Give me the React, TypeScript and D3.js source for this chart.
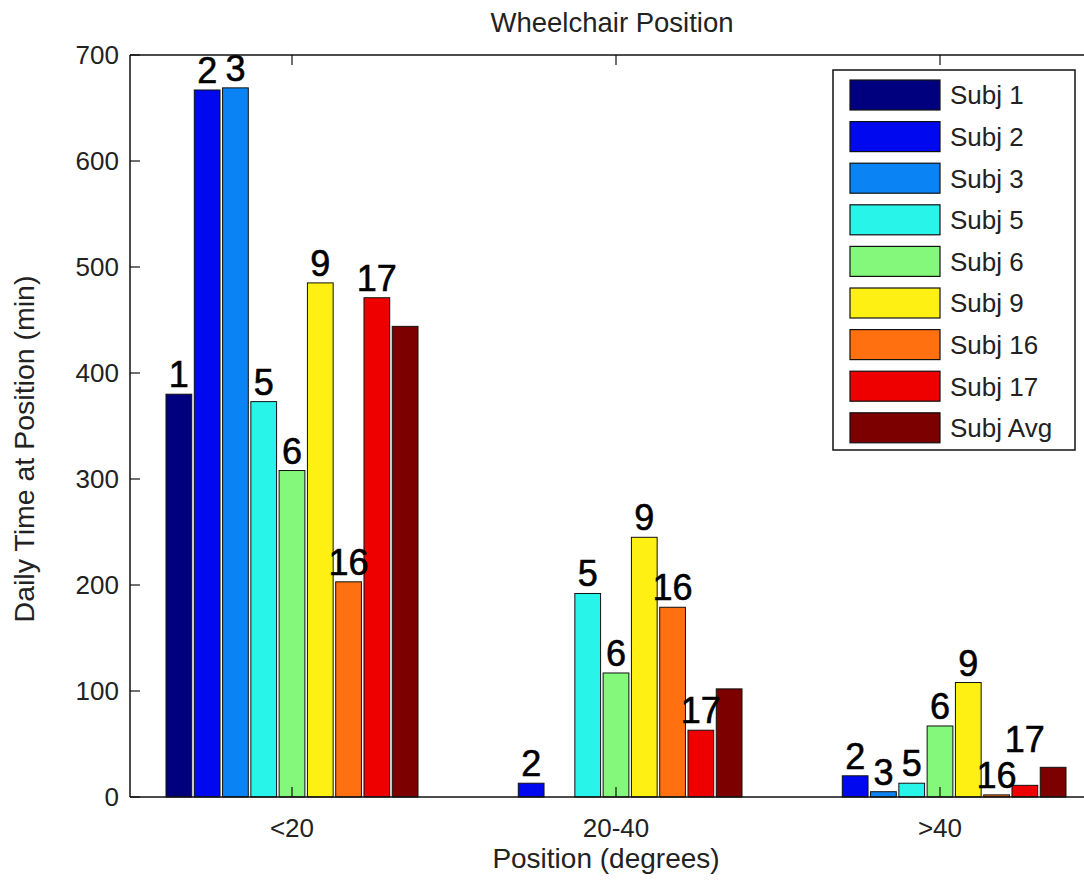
import React from "react";
import * as d3 from "d3";

// position categories on the x axis
const categories = ["<20", "20-40", ">40"];

// legend names and the short tag printed over each bar
const subjects = ["Subj 1", "Subj 2", "Subj 3", "Subj 5", "Subj 6", "Subj 9", "Subj 16", "Subj 17", "Subj Avg"];
const barTags = ["1", "2", "3", "5", "6", "9", "16", "17", ""];

// daily minutes per position (<20, 20-40, >40)
const subj1 = [380, 0, 0];
const subj2 = [667, 13, 20];
const subj3 = [669, 0, 5];
const subj5 = [373, 192, 13];
const subj6 = [308, 117, 67];
const subj9 = [485, 245, 108];
const subj16 = [203, 179, 2];
const subj17 = [471, 63, 11];
const subjAvg = [444, 102, 28];

const yTicks = [0, 100, 200, 300, 400, 500, 600, 700];

const series = [subj1, subj2, subj3, subj5, subj6, subj9, subj16, subj17, subjAvg];
const colors = ["#00007f", "#0008f0", "#0a84f5", "#28f4ea", "#84f87a", "#fff014", "#ff7010", "#ee0000", "#7d0000"];

const W = 1084, H = 882;
const margin = { left: 130, top: 55, bottom: 85 };
const font = "'Liberation Sans', Arial, sans-serif";

export default function App() {
  // MATLAB style: groups at 1..3, xlim [0.5, 3.5]
  const x = d3.scaleLinear().domain([0.5, 3.5]).range([margin.left, margin.left + 3 * 324]);
  const y = d3.scaleLinear().domain([0, 700]).range([H - margin.bottom, margin.top]);
  const inGroup = d3.scaleBand<number>().domain(d3.range(subjects.length)).range([-126, 126]).paddingInner(0.09);

  const x0 = margin.left, x1 = x(3.5), y0 = y(0), yTop = y(700);

  // the "17" tag in the >40 group was lifted in the original so it clears "16"
  const tagLift = (s: number, g: number) => (s === 7 && g === 2 ? 26 : 0);

  // legend box
  const lg = { x: 833, y: 70, w: 242, h: 380, pitch: 41.6, first: 95 };

  return (
    <svg width={W} height={H} style={{ position: "absolute", left: 0, top: 0, background: "#fff" }} fontFamily={font}>
      <rect width={W} height={H} fill="#fff" />

      {/* bars */}
      {series.map((vals, s) =>
        vals.map((v, g) => {
          if (v <= 0) return null;
          const bx = x(g + 1) + (inGroup(s) as number);
          return (
            <rect key={`b${s}-${g}`} x={bx} y={y(v)} width={inGroup.bandwidth()} height={y0 - y(v)}
              fill={colors[s]} stroke="#111" strokeWidth={1} />
          );
        })
      )}

      {/* bar tags */}
      {series.map((vals, s) =>
        vals.map((v, g) => {
          if (v <= 0 || !barTags[s]) return null;
          const cx = x(g + 1) + (inGroup(s) as number) + inGroup.bandwidth() / 2;
          return (
            <text key={`t${s}-${g}`} x={cx} y={y(v) - 7 - tagLift(s, g)} textAnchor="middle" fontSize={36}
              fill="#000" stroke="#000" strokeWidth={0.6}>
              {barTags[s]}
            </text>
          );
        })
      )}

      {/* axes box */}
      <line x1={x0} x2={x0} y1={yTop} y2={y0} stroke="#111" strokeWidth={1.5} />
      <line x1={x0} x2={x1} y1={y0} y2={y0} stroke="#111" strokeWidth={1.5} />
      <line x1={x0} x2={x1} y1={yTop} y2={yTop} stroke="#111" strokeWidth={1.5} />

      {yTicks.map((t) => (
        <g key={`y${t}`}>
          <line x1={x0} x2={x0 + 10} y1={y(t)} y2={y(t)} stroke="#111" strokeWidth={1.2} />
          <text x={x0 - 11} y={y(t)} dy="0.36em" textAnchor="end" fontSize={26} fill="#222">{t}</text>
        </g>
      ))}

      {categories.map((c, i) => (
        <g key={c}>
          <line x1={x(i + 1)} x2={x(i + 1)} y1={yTop} y2={yTop + 10} stroke="#111" strokeWidth={1.2} />
          <line x1={x(i + 1)} x2={x(i + 1)} y1={y0} y2={y0 - 10} stroke="#111" strokeWidth={1.2} />
          <text x={x(i + 1)} y={y0 + 40} textAnchor="middle" fontSize={26} fill="#222">{c}</text>
        </g>
      ))}

      {/* titles */}
      <text x={612} y={32} textAnchor="middle" fontSize={27.5} fill="#222">Wheelchair Position</text>
      <text x={606} y={868} textAnchor="middle" fontSize={28} fill="#222">Position (degrees)</text>
      <text transform={`translate(34, 449) rotate(-90)`} textAnchor="middle" fontSize={28.5} fill="#222">
        Daily Time at Position (min)
      </text>

      {/* legend */}
      <rect x={lg.x} y={lg.y} width={lg.w} height={lg.h} fill="#fff" stroke="#111" strokeWidth={1.5} />
      {subjects.map((name, i) => {
        const cy = lg.first + i * lg.pitch;
        return (
          <g key={name}>
            <rect x={850} y={cy - 15} width={90} height={30} fill={colors[i]} stroke="#111" strokeWidth={1.2} />
            <text x={950} y={cy} dy="0.36em" fontSize={26} fill="#222">{name}</text>
          </g>
        );
      })}
    </svg>
  );
}
